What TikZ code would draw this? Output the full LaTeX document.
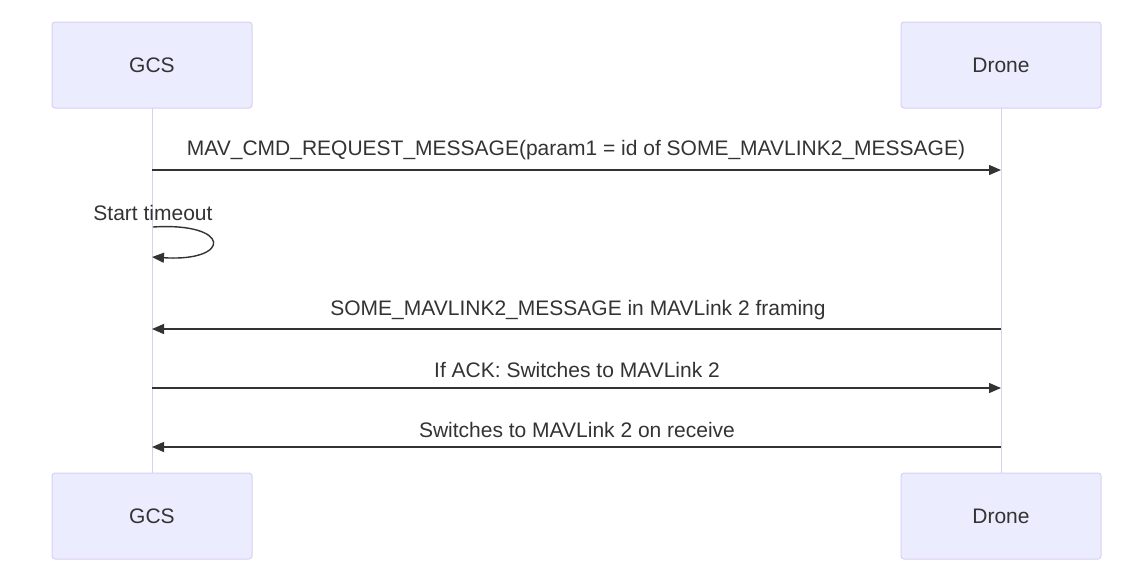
\documentclass[tikz,border=0pt]{standalone}
\usepackage{fontspec}
\setmainfont{Liberation Sans}
\usetikzlibrary{arrows.meta}
\definecolor{actfill}{HTML}{ECECFF}
\definecolor{actline}{HTML}{D9CFF5}
\definecolor{txt}{HTML}{333333}
\tikzset{
  actor/.style={draw=actline, fill=actfill, line width=1pt, rounded corners=3pt,
    minimum width=200pt, minimum height=86pt, inner sep=0pt, text=txt, font=\fontsize{21}{25}\selectfont},
  lifeline/.style={draw=actline, line width=1pt},
  msg/.style={draw=txt, line width=1.4pt, -{Triangle[length=12pt,width=10pt]}},
  msglabel/.style={text=txt, font=\fontsize{21}{25}\selectfont, inner sep=0pt}
}
\begin{document}
\begin{tikzpicture}[x=1pt,y=-1pt]
\useasboundingbox (0,0) rectangle (1134,582);
% lifelines
\coordinate (gtop) at (152,108);
\coordinate (gbot) at (152,473);
\coordinate (dtop) at (1001,108);
\coordinate (dbot) at (1001,473);
\draw[lifeline] (gtop) -- (gbot);
\draw[lifeline] (dtop) -- (dbot);
% actors
\node[actor] (g1) at (152,65) {\raisebox{-1.5pt}{GCS}};
\node[actor] (d1) at (1001,65) {\raisebox{-1.5pt}{Drone}};
\node[actor] (g2) at (152,516) {\raisebox{-1.5pt}{GCS}};
\node[actor] (d2) at (1001,516) {\raisebox{-1.5pt}{Drone}};
% message points
\coordinate (g170) at (152,170); \coordinate (d170) at (1001,170);
\coordinate (g227) at (153,227); \coordinate (g257) at (152,257);
\coordinate (g329) at (152,329); \coordinate (d329) at (1001,329);
\coordinate (g388) at (152,388); \coordinate (d388) at (1001,388);
\coordinate (g447) at (152,447); \coordinate (d447) at (1001,447);
% messages
\draw[msg] (g170) -- (d170);
\node[msglabel] (l1) at (576,150.5) {MAV\_CMD\_REQUEST\_MESSAGE(param1 = id of SOME\_MAVLINK2\_MESSAGE)};
\draw[msg] (g227) .. controls (232,222) and (232,262) .. (g257);
\node[msglabel] (l2) at (153,212.5) {Start timeout};
\draw[msg] (d329) -- (g329);
\node[msglabel] (l3) at (578,310.5) {SOME\_MAVLINK2\_MESSAGE in MAVLink 2 framing};
\draw[msg] (g388) -- (d388);
\node[msglabel] (l4) at (577,369.5) {If ACK: Switches to MAVLink 2};
\draw[msg] (d447) -- (g447);
\node[msglabel] (l5) at (577,429.5) {Switches to MAVLink 2 on receive};
\end{tikzpicture}
\end{document}
